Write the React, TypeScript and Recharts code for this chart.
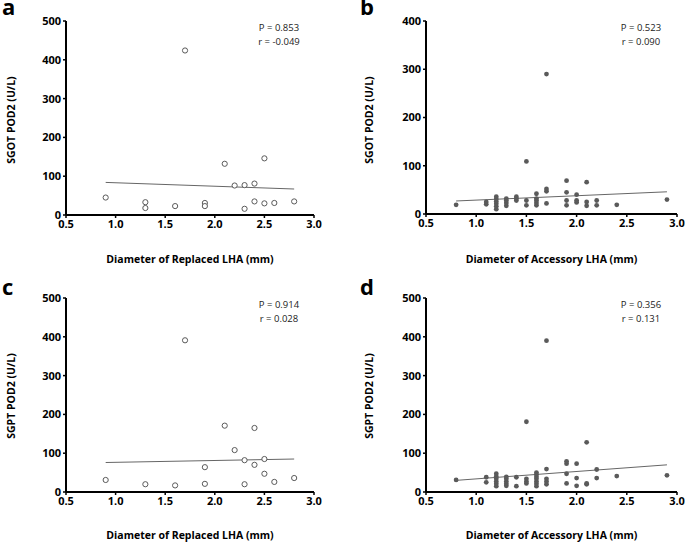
import React from 'react';
import { ScatterChart, Scatter, XAxis, YAxis, ReferenceLine } from 'recharts';

// panel a: replaced LHA vs SGOT
const aX = [0.9, 1.3, 1.3, 1.6, 1.7, 1.9, 1.9, 2.1, 2.2, 2.3, 2.3, 2.4, 2.4, 2.5, 2.5, 2.6, 2.8];
const aY = [45, 33, 18, 23, 424, 31, 23, 132, 76, 77, 16, 81, 35, 146, 30, 31, 35];
const aTrend = [{ x: 0.9, y: 84 }, { x: 2.8, y: 67 }];

// panel b: accessory LHA vs SGOT
const bX = [
  0.8, 1.1, 1.1, 1.2, 1.2, 1.2, 1.2, 1.2, 1.2, 1.3, 1.3, 1.3, 1.3, 1.4, 1.4, 1.4,
  1.5, 1.5, 1.5, 1.6, 1.6, 1.6, 1.6, 1.6, 1.7, 1.7, 1.7, 1.7, 1.9, 1.9, 1.9, 1.9,
  2.0, 2.0, 2.0, 2.1, 2.1, 2.1, 2.2, 2.2, 2.4, 2.9,
];
const bY = [
  19, 20, 25, 10, 16, 21, 26, 31, 36, 17, 23, 28, 32, 28, 32, 36,
  18, 28, 109, 18, 23, 28, 32, 42, 22, 47, 52, 290, 18, 28, 45, 69,
  24, 28, 40, 17, 25, 66, 18, 28, 19, 30,
];
const bTrend = [{ x: 0.8, y: 27 }, { x: 2.9, y: 46 }];

// panel c: replaced LHA vs SGPT
const cX = [0.9, 1.3, 1.6, 1.7, 1.9, 1.9, 2.1, 2.2, 2.3, 2.3, 2.4, 2.4, 2.5, 2.5, 2.6, 2.8];
const cY = [31, 20, 17, 391, 64, 21, 171, 108, 82, 20, 165, 70, 85, 47, 26, 36];
const cTrend = [{ x: 0.9, y: 76 }, { x: 2.8, y: 85 }];

// panel d: accessory LHA vs SGPT
const dX = [
  0.8, 1.1, 1.1, 1.2, 1.2, 1.2, 1.2, 1.2, 1.2, 1.3, 1.3, 1.3, 1.3, 1.3, 1.4, 1.4,
  1.5, 1.5, 1.5, 1.5, 1.6, 1.6, 1.6, 1.6, 1.6, 1.6, 1.6, 1.7, 1.7, 1.7, 1.7, 1.7,
  1.9, 1.9, 1.9, 1.9, 2.0, 2.0, 2.0, 2.1, 2.1, 2.1, 2.2, 2.2, 2.4, 2.9,
];
const dY = [
  31, 25, 38, 15, 21, 27, 34, 40, 47, 16, 21, 27, 34, 39, 15, 38,
  22, 27, 34, 181, 15, 21, 27, 34, 39, 45, 50, 20, 27, 34, 59, 390,
  22, 47, 73, 79, 16, 36, 73, 20, 22, 128, 36, 58, 41, 43,
];
const dTrend = [{ x: 0.8, y: 30 }, { x: 2.9, y: 70 }];

const xTicks = [0.5, 1.0, 1.5, 2.0, 2.5, 3.0];
const yTicks500 = [0, 100, 200, 300, 400, 500];
const yTicks400 = [0, 100, 200, 300, 400];

const FONT = '"Open Sans", "DejaVu Sans", sans-serif';
const MARK = '#5a5a5a';

const zip = (xs: number[], ys: number[]) => xs.map((x, i) => ({ x, y: ys[i] }));

interface PanelProps {
  left: number;
  top: number;
  width: number;
  height: number;
  axisX: number;
  plotTop: number;
  plotBottom: number;
  plotRight: number;
  letter: string;
  yLabel: string;
  xLabel: string;
  yLabelX: number;
  yLabelY: number;
  xLabelY: number;
  pText: string;
  rText: string;
  textRight: number;
  data: { x: number; y: number }[];
  trend: { x: number; y: number }[];
  yMax: number;
  yTicks: number[];
  hollow: boolean;
}

const Panel: React.FC<PanelProps> = (p) => {
  const tick = { fill: '#000', fontSize: 11, fontWeight: 700, fontFamily: FONT };
  const dot = (props: any) =>
    p.hollow ? (
      <circle cx={props.cx} cy={props.cy} r={2.6} fill="#fff" stroke={MARK} strokeWidth={1} />
    ) : (
      <circle cx={props.cx} cy={props.cy} r={2.4} fill={MARK} />
    );
  return (
    <div style={{ position: 'absolute', left: p.left, top: p.top, width: p.width, height: p.height }}>
      <ScatterChart
        width={p.width}
        height={p.height}
        margin={{ top: p.plotTop, right: p.width - p.plotRight, bottom: 0, left: 0 }}
      >
        <XAxis
          type="number"
          dataKey="x"
          domain={[0.5, 3.0]}
          ticks={xTicks}
          tickFormatter={(v: number) => v.toFixed(1)}
          height={p.height - p.plotBottom}
          axisLine={{ stroke: '#000', strokeWidth: 2 }}
          tickLine={{ stroke: '#000', strokeWidth: 1.5 }}
          tickSize={3}
          tickMargin={2}
          tick={tick}
          interval={0}
        />
        <YAxis
          type="number"
          dataKey="y"
          domain={[0, p.yMax]}
          ticks={p.yTicks}
          width={p.axisX}
          axisLine={{ stroke: '#000', strokeWidth: 2 }}
          tickLine={{ stroke: '#000', strokeWidth: 1.5 }}
          tickSize={3}
          tickMargin={2}
          tick={tick}
          interval={0}
        />
        <ReferenceLine
          segment={[p.trend[0], p.trend[1]]}
          stroke="#666"
          strokeWidth={1}
          ifOverflow="visible"
        />
        <Scatter data={p.data} shape={dot} isAnimationActive={false} />
      </ScatterChart>
      <div
        style={{
          position: 'absolute', left: p.left === 0 ? 2 : 20, top: -7, fontFamily: FONT,
          fontWeight: 700, fontSize: 22, lineHeight: '26px',
        }}
      >
        {p.letter}
      </div>
      <div
        style={{
          position: 'absolute', left: p.yLabelX, top: p.yLabelY, transform: 'translate(-50%, -50%) rotate(-90deg)',
          whiteSpace: 'nowrap', fontFamily: FONT, fontWeight: 700, fontSize: 10.5,
        }}
      >
        {p.yLabel}
      </div>
      <div
        style={{
          position: 'absolute', left: (p.axisX + p.plotRight) / 2, top: p.xLabelY, transform: 'translate(-50%, -50%)',
          whiteSpace: 'nowrap', fontFamily: FONT, fontWeight: 700, fontSize: 10.5, lineHeight: '13px',
        }}
      >
        {p.xLabel}
      </div>
      <div
        style={{
          position: 'absolute', right: p.width - p.textRight, top: p.plotTop, width: 60, textAlign: 'center',
          fontFamily: FONT, fontSize: 9.5, lineHeight: '14px', color: '#222',
        }}
      >
        <div>{p.pText}</div>
        <div>{p.rText}</div>
      </div>
    </div>
  );
};

export default function App() {
  return (
    <div style={{ position: 'absolute', left: 0, top: 0, width: 685, height: 542, background: '#fff' }}>
      <Panel
        left={0} top={0} width={330} height={270} axisX={66} plotTop={21} plotBottom={215} plotRight={314}
        letter="a" yLabel="SGOT POD2 (U/L)" xLabel="Diameter of Replaced LHA (mm)"
        yLabelX={11} yLabelY={120} xLabelY={259} pText="P = 0.853" rText="r = -0.049" textRight={309}
        data={zip(aX, aY)} trend={aTrend} yMax={500} yTicks={yTicks500} hollow
      />
      <Panel
        left={340} top={0} width={345} height={270} axisX={86} plotTop={21} plotBottom={214} plotRight={337}
        letter="b" yLabel="SGOT POD2 (U/L)" xLabel="Diameter of Accessory LHA (mm)"
        yLabelX={29} yLabelY={120} xLabelY={259} pText="P = 0.523" rText="r = 0.090" textRight={331}
        data={zip(bX, bY)} trend={bTrend} yMax={400} yTicks={yTicks400} hollow={false}
      />
      <Panel
        left={0} top={280} width={330} height={262} axisX={66} plotTop={18} plotBottom={212} plotRight={314}
        letter="c" yLabel="SGPT POD2 (U/L)" xLabel="Diameter of Replaced LHA (mm)"
        yLabelX={11} yLabelY={116} xLabelY={255} pText="P = 0.914" rText="r = 0.028" textRight={309}
        data={zip(cX, cY)} trend={cTrend} yMax={500} yTicks={yTicks500} hollow
      />
      <Panel
        left={340} top={280} width={345} height={262} axisX={86} plotTop={18} plotBottom={212} plotRight={337}
        letter="d" yLabel="SGPT POD2 (U/L)" xLabel="Diameter of Accessory LHA (mm)"
        yLabelX={29} yLabelY={116} xLabelY={255} pText="P = 0.356" rText="r = 0.131" textRight={331}
        data={zip(dX, dY)} trend={dTrend} yMax={500} yTicks={yTicks500} hollow={false}
      />
    </div>
  );
}
